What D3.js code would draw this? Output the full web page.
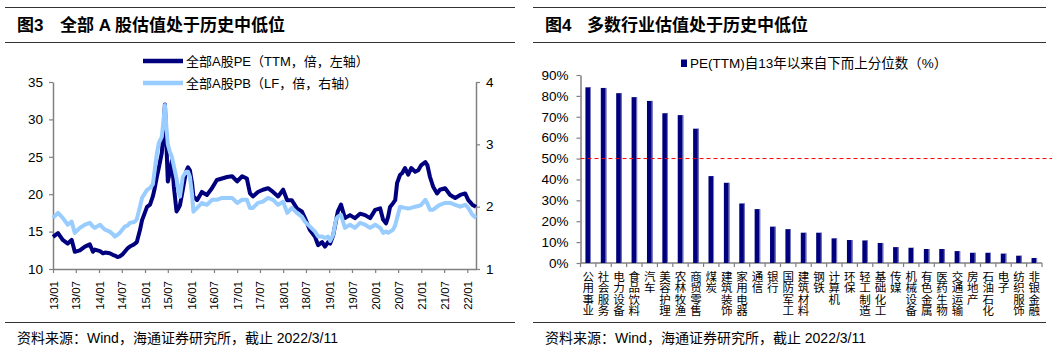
<!DOCTYPE html>
<html><head><meta charset="utf-8">
<script src="https://cdn.jsdelivr.net/npm/d3@7"></script>
<style>
body{margin:0;background:#fff}
svg{display:block}
text{font-family:"Liberation Sans",Arial,"Noto Sans CJK SC",sans-serif;fill:#000}
</style>
</head><body>
<svg id="c" width="1052" height="350"></svg>
<script>
// ---------- Figure 3 data ----------
const dates = ["2013-01-01","2013-02-10","2013-03-19","2013-04-28","2013-05-29","2013-06-23","2013-08-02","2013-09-11","2013-10-20","2013-11-14","2013-11-29","2014-01-09","2014-02-02","2014-02-18","2014-03-27","2014-04-20","2014-05-06","2014-05-28","2014-06-15","2014-07-09","2014-07-24","2014-08-18","2014-09-03","2014-09-27","2014-10-13","2014-10-28","2014-11-22","2014-12-08","2015-01-17","2015-02-10","2015-03-04","2015-03-19","2015-04-05","2015-04-20","2015-05-14","2015-05-26","2015-06-08","2015-06-19","2015-07-01","2015-07-17","2015-08-02","2015-08-18","2015-09-08","2015-09-23","2015-10-05","2015-10-28","2015-11-22","2015-12-08","2015-12-23","2016-01-09","2016-01-20","2016-02-18","2016-03-27","2016-05-06","2016-06-15","2016-07-24","2016-09-03","2016-10-13","2016-11-22","2017-01-01","2017-02-10","2017-03-19","2017-04-13","2017-05-06","2017-06-15","2017-07-24","2017-09-03","2017-10-13","2017-11-22","2018-01-01","2018-02-02","2018-03-11","2018-04-20","2018-05-29","2018-06-23","2018-08-02","2018-09-11","2018-10-05","2018-11-06","2018-11-29","2018-12-23","2019-01-09","2019-02-02","2019-02-25","2019-03-11","2019-04-05","2019-05-06","2019-06-15","2019-07-24","2019-09-03","2019-10-13","2019-11-22","2020-01-01","2020-02-10","2020-03-04","2020-03-27","2020-04-13","2020-04-28","2020-05-22","2020-06-08","2020-06-23","2020-07-17","2020-08-02","2020-08-25","2020-09-19","2020-10-13","2020-11-14","2020-12-08","2021-01-01","2021-02-02","2021-02-18","2021-03-11","2021-04-05","2021-05-06","2021-05-29","2021-07-09","2021-08-18","2021-09-27","2021-11-06","2021-12-15","2022-01-09","2022-02-10","2022-03-11"];
const peValues = [14.3,14.8,13.9,13.4,13.9,12.3,12.5,13.0,13.3,12.3,12.6,12.4,12.1,12.2,12.1,11.9,11.8,11.6,11.7,12.0,12.3,12.8,13.0,13.2,13.4,13.6,15.2,16.5,18.3,18.6,19.7,20.8,22.3,23.5,25.5,28.0,32.0,27.0,21.7,23.0,24.5,21.0,17.7,18.1,18.5,20.6,23.0,23.6,23.2,21.5,19.7,19.2,20.3,19.9,20.8,21.9,22.1,22.3,22.4,21.7,22.4,22.1,20.1,19.7,20.3,20.6,20.8,20.3,19.7,20.6,19.2,19.2,18.1,17.7,16.8,15.2,14.3,13.2,13.6,13.0,13.6,13.4,14.5,16.5,17.7,18.6,16.8,17.2,16.8,17.4,17.2,16.8,17.9,18.1,16.6,16.1,17.0,18.3,18.8,19.2,21.5,22.6,22.8,23.5,22.6,23.5,23.0,23.2,23.9,24.3,23.9,22.3,21.0,20.1,20.6,20.8,19.9,19.5,19.9,20.1,19.2,18.6,18.3];
const pbValues = [1.82,1.90,1.82,1.71,1.76,1.58,1.66,1.71,1.74,1.68,1.66,1.71,1.66,1.63,1.60,1.56,1.52,1.55,1.58,1.64,1.68,1.70,1.74,1.75,1.76,1.80,2.00,2.14,2.27,2.30,2.36,2.59,2.85,3.02,3.12,3.35,3.63,3.30,3.00,2.88,2.80,2.65,2.45,2.25,2.16,2.48,2.56,2.56,2.48,2.20,1.92,1.98,2.06,2.03,2.11,2.11,2.14,2.14,2.14,2.06,2.11,2.11,1.98,1.98,2.06,2.08,2.14,2.11,2.03,2.08,1.90,1.98,1.90,1.84,1.76,1.68,1.60,1.52,1.52,1.50,1.52,1.45,1.55,1.80,1.84,1.87,1.66,1.71,1.66,1.74,1.71,1.66,1.71,1.66,1.58,1.60,1.58,1.60,1.63,1.70,1.82,2.00,1.99,1.98,1.97,1.98,2.00,2.01,2.03,2.11,2.05,1.95,1.95,2.00,2.03,2.06,2.06,2.03,2.00,2.03,1.98,1.87,1.82];
const xTickDates = ["2013-01-01","2013-07-01","2014-01-01","2014-07-01","2015-01-01","2015-07-01","2016-01-01","2016-07-01","2017-01-01","2017-07-01","2018-01-01","2018-07-01","2019-01-01","2019-07-01","2020-01-01","2020-07-01","2021-01-01","2021-07-01","2022-01-01"];
const xTickLabels = ["13/01","13/07","14/01","14/07","15/01","15/07","16/01","16/07","17/01","17/07","18/01","18/07","19/01","19/07","20/01","20/07","21/01","21/07","22/01"];
const peTicks = [10,15,20,25,30,35];
const pbTicks = [1,2,3,4];
const seriesNames = ["全部A股PE（TTM，倍，左轴）","全部A股PB（LF，倍，右轴）"];

// ---------- Figure 4 data ----------
const industries = ["公用事业","社会服务","电力设备","食品饮料","汽车","美容护理","农林牧渔","商贸零售","煤炭","建筑装饰","家用电器","通信","银行","国防军工","建筑材料","钢铁","计算机","环保","轻工制造","基础化工","传媒","机械设备","有色金属","医药生物","交通运输","房地产","石油石化","电子","纺织服饰","非银金融"];
const percentiles = [84.1,83.8,81.3,79.4,77.6,71.7,70.8,64.3,41.6,38.4,28.5,25.8,17.4,16.2,14.5,14.5,11.8,11.0,10.8,9.6,7.6,7.3,6.7,6.7,5.7,4.9,4.9,4.5,3.5,2.4];
const pctTicks = [0,10,20,30,40,50,60,70,80,90];
const refLine = 50;
const barLegend = "PE(TTM)自13年以来自下而上分位数（%）";

const titles = [["图3","全部 A 股估值处于历史中低位"],["图4","多数行业估值处于历史中低位"]];
const source = "资料来源：Wind，海通证券研究所，截止 2022/3/11";

const svg = d3.select("#c");
const parse = d3.utcParse("%Y-%m-%d");
const navy = "#00007f", light = "#99ccff", axisCol = "#808080";

// ---------- frames: titles, rules, sources ----------
const panels = [{x0:5,x1:515,tx:17,tx2:60},{x0:533,x1:1046,tx:545,tx2:587}];
panels.forEach((p,i)=>{
  [7,42].forEach(yy=>svg.append("line").attr("x1",p.x0).attr("x2",p.x1).attr("y1",yy+0.5).attr("y2",yy+0.5).attr("stroke","#333").attr("stroke-width",1));
  svg.append("line").attr("x1",p.x0).attr("x2",p.x1).attr("y1",322.5).attr("y2",322.5).attr("stroke","#333").attr("stroke-width",1);
  svg.append("text").attr("x",p.tx).attr("y",31).attr("font-size",17).attr("font-weight","bold").text(titles[i][0]);
  svg.append("text").attr("x",p.tx2).attr("y",31).attr("font-size",17).attr("font-weight","bold").text(titles[i][1]);
  svg.append("text").attr("x",p.tx).attr("y",338.5).attr("dy","0.35em").attr("font-size",14).text(source);
});

// ---------- Figure 3 ----------
const x = d3.scaleUtc().domain([parse("2013-01-01"),parse("2022-03-11")]).range([53,476]);
const yL = d3.scaleLinear().domain([10,35]).range([269,82]);
const yR = d3.scaleLinear().domain([1,4]).range([269,82]);

function styleAxis(g){
  g.select(".domain").attr("stroke",axisCol).attr("stroke-width",1.5);
  g.selectAll(".tick line").attr("stroke",axisCol).attr("stroke-width",1.2);
}
const gL = svg.append("g").attr("transform","translate(53,0)")
  .call(d3.axisLeft(yL).tickValues(peTicks).tickFormat(d3.format("d")).tickSize(4).tickPadding(6).tickSizeOuter(0));
gL.call(styleAxis); gL.selectAll("text").attr("font-size",13.5).attr("font-family","Liberation Sans, Arial");
const gR = svg.append("g").attr("transform","translate(476,0)")
  .call(d3.axisRight(yR).tickValues(pbTicks).tickFormat(d3.format("d")).tickSize(4).tickPadding(6).tickSizeOuter(0));
gR.call(styleAxis); gR.selectAll("text").attr("font-size",13.5).attr("font-family","Liberation Sans, Arial");
const gX = svg.append("g").attr("transform","translate(0,269)")
  .call(d3.axisBottom(x).tickValues(xTickDates.map(parse)).tickFormat((d,i)=>xTickLabels[i]).tickSize(4).tickSizeOuter(0));
gX.call(styleAxis);
gX.selectAll("text").attr("font-size",11.5).attr("font-family","Liberation Sans, Arial")
  .attr("transform","rotate(-90)").attr("x",-12).attr("y",0).attr("dy","0.35em").style("text-anchor","end");

const pe = dates.map((d,i)=>({d:parse(d),v:peValues[i]}));
const pb = dates.map((d,i)=>({d:parse(d),v:pbValues[i]}));
svg.append("path").datum(pe).attr("fill","none").attr("stroke",navy).attr("stroke-width",4).attr("stroke-linejoin","round")
  .attr("d",d3.line().x(d=>x(d.d)).y(d=>yL(d.v)));
svg.append("path").datum(pb).attr("fill","none").attr("stroke",light).attr("stroke-width",4).attr("stroke-linejoin","round")
  .attr("d",d3.line().x(d=>x(d.d)).y(d=>yR(d.v)));

// legend
[[navy,61],[light,83]].forEach((l,i)=>{
  svg.append("line").attr("x1",143).attr("x2",183).attr("y1",l[1]).attr("y2",l[1]).attr("stroke",l[0]).attr("stroke-width",4.5);
  svg.append("text").attr("x",186).attr("y",l[1]).attr("dy","0.35em").attr("font-size",13).text(seriesNames[i]);
});

// ---------- Figure 4 ----------
const xb = d3.scaleBand().domain(industries).range([580.5,1042]).paddingInner(0.64).paddingOuter(0.32);
const yb = d3.scaleLinear().domain([0,90]).range([263,75]);

const gB = svg.append("g").attr("transform","translate(580.5,0)")
  .call(d3.axisLeft(yb).tickValues(pctTicks).tickFormat(d=>d+"%").tickSize(4).tickPadding(8).tickSizeOuter(0));
gB.call(styleAxis); gB.selectAll("text").attr("font-size",13.5).attr("font-family","Liberation Sans, Arial");

// x axis baseline + boundary ticks
svg.append("line").attr("x1",580.5).attr("x2",1042).attr("y1",yb(0)).attr("y2",yb(0)).attr("stroke",axisCol).attr("stroke-width",1.5);
d3.range(industries.length+1).forEach(i=>{
  const xx = 580.5 + i*xb.step();
  svg.append("line").attr("x1",xx).attr("x2",xx).attr("y1",yb(0)).attr("y2",yb(0)+4).attr("stroke",axisCol).attr("stroke-width",1.2);
});

svg.append("g").selectAll("rect").data(industries).join("rect")
  .attr("x",d=>xb(d)).attr("width",xb.bandwidth())
  .attr("y",(d,i)=>yb(percentiles[i])).attr("height",(d,i)=>yb(0)-yb(percentiles[i]))
  .attr("fill",navy);
svg.append("g").selectAll("rect").data(industries).join("rect")
  .attr("x",d=>xb(d)+xb.bandwidth()-1).attr("width",1)
  .attr("y",(d,i)=>yb(percentiles[i])).attr("height",(d,i)=>yb(0)-yb(percentiles[i]))
  .attr("fill","#8080c0");

svg.append("line").attr("x1",580.5).attr("x2",1052).attr("y1",yb(refLine)).attr("y2",yb(refLine))
  .attr("stroke","#ff0000").attr("stroke-width",1).attr("stroke-dasharray","4,3");

// category labels: vertical stacked characters
industries.forEach(name=>{
  const cx = xb(name)+xb.bandwidth()/2;
  Array.from(name).forEach((ch,k)=>{
    svg.append("text").attr("x",cx).attr("y",276.5+k*11.5).attr("dy","0.35em")
      .attr("text-anchor","middle").attr("font-size",11.5).attr("font-family","Noto Sans CJK SC").text(ch);
  });
});

// legend
svg.append("rect").attr("x",681).attr("y",59.5).attr("width",6).attr("height",7.5).attr("fill",navy);
svg.append("text").attr("x",690).attr("y",63).attr("dy","0.35em").attr("font-size",13.5).text(barLegend);
</script>
</body></html>
